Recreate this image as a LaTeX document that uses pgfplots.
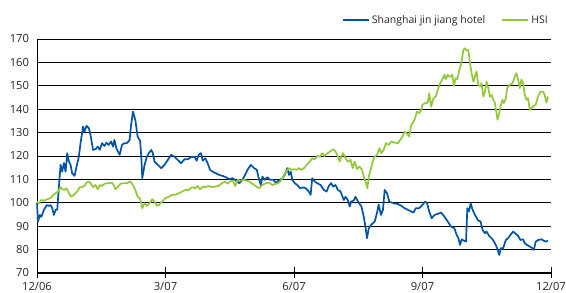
\documentclass[border=0pt]{standalone}
\usepackage{fontspec}
\setmainfont{Open Sans}
\usepackage{pgfplots}
\pgfplotsset{compat=1.18}
\definecolor{sjblue}{RGB}{0,84,164}
\definecolor{hsigreen}{RGB}{146,200,56}
\begin{document}
\begin{tikzpicture}
\begin{axis}[
  scale only axis, width=514pt, height=234pt,
  xmin=0, xmax=516, ymin=70, ymax=170,
  xtick={0,129,258,387,516},
  xticklabels={12/06,3/07,6/07,9/07,12/07},
  ytick={70,80,...,170},
  ymajorgrids, grid style={black, line width=0.7pt},
  axis x line*=bottom, axis y line*=left,
  x axis line style={line width=2pt, -},
  y axis line style={line width=0.9pt, -},
  xtick style={black, line width=0.8pt}, major tick length=11pt, tick align=center,
  ytick style={draw=none},
  /pgf/number format/assume math mode=true,
  tick label style={font=\fontsize{11.2}{13}\selectfont, text=black!85},
  yticklabel style={xshift=1pt},
  legend style={at={(1,1)}, anchor=south east, yshift=10pt, xshift=2pt, draw=none, fill=none,
    font=\fontsize{10.5}{12}\selectfont, text=black!85,
    /tikz/every even column/.append style={column sep=14pt}},
  legend columns=2,
  legend image code/.code={\draw[#1, line width=2pt] (0pt,0pt) -- (26pt,0pt);},
  every axis plot/.append style={line width=1.7pt, line join=round, mark=none},
  clip=false,
]
\addplot[sjblue] coordinates {
(0,100) (1,92) (3,94.8) (4.3,94) (7,97) (9.7,99) (12,98.7) (13.7,99) (15.3,97.7) (17,94.8)
(18.7,97) (20.3,97) (22,107) (23.7,116.2) (25.3,113.3) (27,117) (28.7,113.3) (30.3,121.2)
(32,117.6) (33.7,116.2) (35.3,112.6) (37.7,111.5) (39.7,115.5) (42,119.7) (43.7,125.5)
(46.3,132.6) (47.7,130.4) (49.7,132.9) (52,131.9) (53.7,129) (56.3,122.6) (58.7,122.9)
(61,124) (63,122.6) (65.3,125.5) (67.7,124.3) (69.7,125.7) (72,124.7) (74.3,126.2)
(76.3,124) (77.7,126.9) (79.7,123.3) (83,120.5) (85.3,124.7) (87.7,125.5) (90.3,125.5)
(93,126.9) (94.3,132.6) (96.3,139) (98.7,135.4) (101,128.3) (103.5,126.5) (104.7,119.7)
(105.7,110.5) (108,116.2) (110.3,119.7) (112.3,121.2) (114.7,122.6) (116.3,121.2)
(118,117.6) (121.3,116.2) (124.7,114.8) (128,116.2) (131.3,118.3) (134.7,120.5)
(138,119.7) (141.3,118.3) (144.7,116.9) (148,118.6) (151.3,118.6) (154.7,119.5)
(158,119.7) (160.3,118) (162.3,120.5) (164.7,121.2) (166.3,118) (169,119) (171.3,116.9)
(173.7,114.1) (176.3,113.3) (179.7,112.6) (183,111.9) (186.3,111.5) (189.7,110.9)
(193,110.1) (196.3,110.5) (199.7,109.5) (203,108.4) (206.3,109.8) (209.7,112.6)
(211.3,114.1) (214.7,116.2) (218,114.8) (220.7,114.1) (223,109.8) (224.7,107.6)
(226.3,111.2) (228.7,109.8) (231.3,110.9) (234,109.8) (237.3,109.8) (239.7,108.6)
(243,109.5) (246.3,110.5) (248.7,111.9) (251.3,114.8) (253,111.9) (254.7,113.3)
(256.3,109.8) (258.7,108.4) (261.3,107.6) (264,106.2) (267.3,106.6) (269.7,106.2)
(273,104.8) (274.7,103.4) (276.3,110.5) (278.7,109.1) (281.3,108.4) (284.7,107.6)
(288,105.5) (290.7,104.8) (293,107.2) (295.3,108.4) (297.3,106.9) (299.7,107.6)
(302,105.5) (304.7,104.8) (308,101.2) (309.7,102.6) (312,101.2) (314,98.4) (315.3,100.5)
(318,101) (319.7,102.6) (322.3,100.5) (325.7,98.4) (328,94.1) (329.7,89.8) (331.3,84.9)
(333,89.1) (335.7,90.6) (339,92) (341.3,95.6) (343,99.2) (345.3,94.8) (347.3,97)
(349,105.5) (351.3,104.1) (353.7,100.5) (358,99.8) (362.3,99.5) (365.7,98.7) (369,97.7)
(372.3,97) (375.7,96.3) (378,95.8) (380.3,97.7) (383.7,97.7) (387,99.1) (389.7,100.5)
(391.7,99.8) (393.7,96.3) (396.3,93.4) (399,94.8) (402.3,95.3) (405.7,95.8) (409,94.1)
(412.3,92) (415.7,89.8) (419,89.1) (421.3,86.3) (423,84.9) (424.7,82) (426.3,84.4)
(428.7,83.8) (430.7,83.4) (432,97.7) (433.7,96.3) (435.3,99.8) (437.3,97) (439.7,94.8)
(443,92.4) (445.3,92) (447.3,88.4) (449.7,87) (451.3,87.7) (454,85.8) (457.3,84.4)
(459.7,82.7) (462,80.6) (464,77.7) (465.7,80.6) (468,80.6) (470.7,84.1) (473,84.9)
(475.3,86.3) (478,87.7) (480.7,86.7) (483,85.8) (485.3,84.1) (488,84.4) (489.7,82.7)
(492,82) (494.7,81.3) (497.3,80.6) (498.7,79.9) (500.7,83.4) (503,84.1) (506.3,84.4)
(508.7,83.8) (510.7,83.4) (513,83.8)
};
\addlegendentry{Shanghai jin jiang hotel}
\addplot[hsigreen] coordinates {
(0,100.5) (2,99.8) (4.3,101.2) (7,100.9) (10.3,101.5) (13.7,102) (16.3,103.4) (18.7,104.1)
(21,104.8) (23.7,106.7) (25.3,105.8) (27.7,105.5) (29.7,106.2) (32,104.1) (34.3,102.6)
(37,103.4) (40.3,104.8) (43,106.7) (45.3,106.7) (47.7,107.2) (49.7,108.6) (52,109.1)
(54.3,108.1) (56.3,106.7) (58.7,107.6) (61,105.8) (63,107.6) (65.3,107.2) (67.7,108.1)
(70.3,108.4) (73,108.4) (75.3,108.6) (77,107.6) (78.7,105.8) (81,106.7) (83.7,108.1)
(87,108.4) (90.3,108.4) (93.7,109.1) (96.3,107.6) (98.7,105.5) (101,102.6) (103.5,101.8)
(105.7,97.7) (108,99.8) (110.3,98.7) (113,99.8) (115.7,101.5) (118,100.5) (120.3,98.7)
(122.3,99.1) (125.7,100.5) (129,102) (132.3,102.6) (135.7,103.4) (139,103.4) (142.3,104.1)
(145.7,104.8) (149,105.5) (152.3,105.5) (155.7,106.7) (159,106.2) (161.3,107.2)
(163.7,105.8) (166.3,106.9) (169,106.7) (172.3,107.2) (175.7,106.7) (179,106.9)
(182.3,107.2) (185.7,108.4) (189,109.1) (191.3,108.1) (193.7,109.1) (196.3,109.5)
(199,107.2) (201.3,109.8) (204.7,109.5) (208,109.8) (213,109.1) (218,107.6) (223,106.2)
(226.3,107.6) (229.7,108.4) (233,108.6) (236.3,107.6) (239.7,108.1) (243,108.6)
(245.3,109.8) (248,111.9) (250.7,113.8) (253,114.8) (255.3,114.1) (258,114.4)
(260.7,114.1) (263,114.8) (265.3,114.1) (268,114.8) (270.7,116.2) (273,117.2) (276.3,119)
(278.7,118.6) (281.3,120) (284,119.7) (286.3,121.2) (288.7,120) (290.7,120.9) (293,121.5)
(295.3,122.3) (297.3,122.9) (299.7,121.9) (302,120) (304,117.6) (305.3,119.7) (307.3,121.2)
(309.7,119) (312,117.6) (314.7,118.3) (317,114.8) (319,117.6) (321.3,114.4) (323.7,115.5)
(326.3,114.1) (328,111.2) (329.7,109.1) (331.7,106.2) (333,111.2) (335,114.1) (337,117.6)
(339,119.7) (341.3,120.5) (343.7,123.3) (345.7,121.2) (348,122.6) (350.3,125.5)
(353,124.7) (355.7,126.2) (359,125.7) (362.3,125.5) (364.7,126.9) (367,128.3) (369,130.4)
(371.3,129.7) (373.7,128.3) (375.7,133.3) (378,134.7) (379.7,136.2) (381.3,139)
(383.7,138.3) (385.7,139.7) (387,141.9) (389.7,142.6) (392.3,142.8) (393.7,146.8)
(395.7,141.1) (398,144.7) (400.3,145.4) (402.3,148.2) (404.7,151.1) (407,152.8)
(409,154.7) (410.3,152.8) (412.3,154.7) (414.7,153.7) (417,154.7) (418.5,150) (420.3,153.3)
(422,152.8) (424,156.8) (426.3,160.3) (428,165.3) (429.7,166) (431.3,165) (433,165.3)
(434.7,159.7) (436.3,155.4) (438,151.8) (439.7,153.9) (441.3,156.1) (443,150.4)
(444.7,149.7) (446.3,151.1) (448,145.4) (449.7,147.5) (451.3,151.8) (453,149) (454.7,145.4)
(456.3,146.1) (458,144) (459.7,142.6) (461.3,138.3) (462.3,135.5) (464,138.3) (465.3,141.1)
(467.3,144) (468.7,142.6) (470.7,144.7) (472,149) (474.7,150.4) (477.3,151.1) (479.7,153.9)
(481.3,155.4) (483,152.6) (484.7,149) (486.3,152.6) (488,151.1) (489.7,146.1) (491.3,144)
(493,144.7) (494.7,139.7) (496.3,140.4) (498,141.1) (500.7,141.9) (503,145.4) (505.3,147.5)
(508,147.5) (509.7,146.1) (511.3,142.8) (513,145.4)
};
\addlegendentry{HSI}
\end{axis}
\pgfresetboundingbox
\path ([shift={(-37pt,-20pt)}]current axis.south west) rectangle ([shift={(15pt,39pt)}]current axis.north east);
\end{tikzpicture}
\end{document}
